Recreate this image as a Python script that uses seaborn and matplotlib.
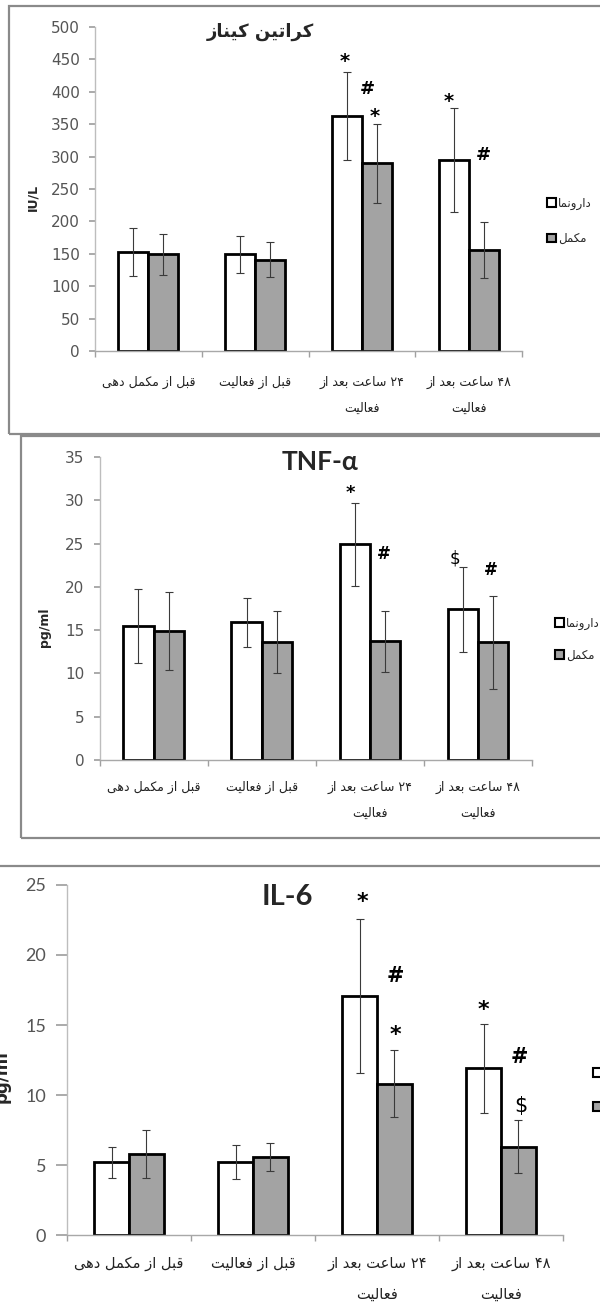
import re
import matplotlib
matplotlib.use('Agg')
import matplotlib.pyplot as plt
from matplotlib.patches import Rectangle, Patch
import seaborn as sns
import pandas as pd
import numpy as np

# ---- data ----
times = ['قبل از مکمل دهی', 'قبل از فعالیت',
         '۲۴ ساعت بعد از\nفعالیت', '۴۸ ساعت بعد از\nفعالیت']
groups = ['دارونما', 'مکمل']

ck_placebo = [153, 149, 363, 295]
ck_placebo_err = [37, 29, 68, 80]
ck_supp = [149, 141, 290, 156]
ck_supp_err = [32, 27, 61, 43]

tnf_placebo = [15.5, 15.9, 24.9, 17.4]
tnf_placebo_err = [4.3, 2.8, 4.8, 4.9]
tnf_supp = [14.9, 13.6, 13.7, 13.6]
tnf_supp_err = [4.5, 3.6, 3.5, 5.4]

il6_placebo = [5.2, 5.2, 17.1, 11.9]
il6_placebo_err = [1.1, 1.2, 5.5, 3.2]
il6_supp = [5.8, 5.6, 10.8, 6.3]
il6_supp_err = [1.7, 1.0, 2.4, 1.9]

# significance marks: (time index, offset in category units, y value, symbol)
ck_marks = [(2, -0.16, 447, '*'), (2, 0.05, 405, '#'), (2, 0.12, 362, '*'),
            (3, -0.19, 385, '*'), (3, 0.135, 302, '#')]
tnf_marks = [(2, -0.18, 30.8, '*'), (2, 0.13, 23.8, '#'),
             (3, -0.21, 23.3, '$'), (3, 0.12, 21.9, '#')]
il6_marks = [(2, -0.12, 23.8, '*'), (2, 0.15, 18.5, '#'), (2, 0.15, 14.3, '*'),
             (3, -0.14, 16.1, '*'), (3, 0.15, 12.7, '#'), (3, 0.16, 9.2, '$')]

# ---- minimal Persian shaping (presentation forms + visual order) ----
FORMS = {  # isolated, final, initial, medial
    'ا': ('\uFE8D', '\uFE8E', None, None),
    'ب': ('\uFE8F', '\uFE90', '\uFE91', '\uFE92'),
    'ت': ('\uFE95', '\uFE96', '\uFE97', '\uFE98'),
    'د': ('\uFEA9', '\uFEAA', None, None),
    'ر': ('\uFEAD', '\uFEAE', None, None),
    'ز': ('\uFEAF', '\uFEB0', None, None),
    'س': ('\uFEB1', '\uFEB2', '\uFEB3', '\uFEB4'),
    'ع': ('\uFEC9', '\uFECA', '\uFECB', '\uFECC'),
    'ف': ('\uFED1', '\uFED2', '\uFED3', '\uFED4'),
    'ق': ('\uFED5', '\uFED6', '\uFED7', '\uFED8'),
    'ل': ('\uFEDD', '\uFEDE', '\uFEDF', '\uFEE0'),
    'م': ('\uFEE1', '\uFEE2', '\uFEE3', '\uFEE4'),
    'ن': ('\uFEE5', '\uFEE6', '\uFEE7', '\uFEE8'),
    'ه': ('\uFEE9', '\uFEEA', '\uFEEB', '\uFEEC'),
    'و': ('\uFEED', '\uFEEE', None, None),
    'ک': ('\uFB8E', '\uFB8F', '\uFB90', '\uFB91'),
    'ی': ('\uFBFC', '\uFBFD', '\uFBFE', '\uFBFF'),
}


def shape(text):
    lines = []
    for line in text.split('\n'):
        out = []
        for i, ch in enumerate(line):
            if ch not in FORMS:
                out.append(ch)
                continue
            iso, fin, ini, med = FORMS[ch]
            prev = line[i - 1] if i > 0 else ''
            nxt = line[i + 1] if i + 1 < len(line) else ''
            jp = prev in FORMS and FORMS[prev][2] is not None
            jn = nxt in FORMS and ini is not None
            out.append(med if jp and jn else fin if jp else ini if jn else iso)
        runs = re.findall(r'\d+|\D+', ''.join(out))
        lines.append(''.join(r if r[0].isdigit() else r[::-1] for r in reversed(runs)))
    return '\n'.join(lines)


sns.set_theme(style='white')
plt.rcParams['font.family'] = ['DejaVu Sans']

W, H = 600, 1309
fig = plt.figure(figsize=(W / 100, H / 100), dpi=100)


def fx(px):
    return px / W


def fy(py):
    return 1 - py / H


# panel frames
fig.add_artist(Rectangle((fx(9), fy(434)), fx(620), 428 / H, transform=fig.transFigure,
                         fill=False, edgecolor='#8a8a8a', linewidth=1.6))
fig.add_artist(Rectangle((fx(21), fy(838)), fx(620), 402 / H, transform=fig.transFigure,
                         fill=False, edgecolor='#8a8a8a', linewidth=1.6))
fig.add_artist(Rectangle((fx(-10), fy(1320)), fx(620), 454 / H, transform=fig.transFigure,
                         fill=False, edgecolor='#8a8a8a', linewidth=1.6))

panels = [
    dict(rect=(fx(95), fy(351), fx(522 - 95), 324 / H), ymax=500, step=50,
         vals=(ck_placebo, ck_placebo_err, ck_supp, ck_supp_err), marks=ck_marks,
         title=shape('کراتین کیناز'), tpos=(260, 32), tfont=['DejaVu Sans'], tsize=13,
         ylabel='IU/L', ypos=(33, 197), ysize=9, tickfont=['Liberation Sans Narrow', 'DejaVu Sans'],
         ticksize=11, ticklen=4, xsize=9, xpad=18, leg=(547, 221), legsp=1.9, marksize=14),
    dict(rect=(fx(99.5), fy(760), fx(532 - 99.5), 303 / H), ymax=35, step=5,
         vals=(tnf_placebo, tnf_placebo_err, tnf_supp, tnf_supp_err), marks=tnf_marks,
         title='TNF-α', tpos=(320, 462), tfont=['Lato', 'DejaVu Sans'], tsize=19,
         ylabel='pg/ml', ypos=(44, 627), ysize=9, tickfont=['Liberation Sans Narrow', 'DejaVu Sans'],
         ticksize=11, ticklen=4, xsize=9, xpad=15, leg=(555, 639), legsp=1.6, marksize=13),
    dict(rect=(fx(67), fy(1235), fx(496), 350 / H), ymax=25, step=5,
         vals=(il6_placebo, il6_placebo_err, il6_supp, il6_supp_err), marks=il6_marks,
         title='IL-6', tpos=(287, 897), tfont=['Lato', 'DejaVu Sans'], tsize=21,
         ylabel='pg/ml', ypos=(2, 1077), ysize=12, tickfont=['Lato', 'DejaVu Sans'],
         ticksize=13, ticklen=8, xsize=10.5, xpad=15, leg=(593, 1090), legsp=1.8, marksize=16),
]

for cfg in panels:
    ax = fig.add_axes(cfg['rect'])
    pl, pl_err, sp, sp_err = cfg['vals']
    df = pd.DataFrame({'time': times * 2,
                       'group': [groups[0]] * 4 + [groups[1]] * 4,
                       'value': pl + sp})
    sns.barplot(data=df, x='time', y='value', hue='group', order=times, hue_order=groups,
                palette=['white', '#a3a3a3'], saturation=1, edgecolor='black', linewidth=2,
                width=0.56, errorbar=None, legend=False, ax=ax, zorder=2)
    for cont, err in zip(ax.containers, [pl_err, sp_err]):
        xs = [p.get_x() + p.get_width() / 2 for p in cont]
        ys = [p.get_height() for p in cont]
        ax.errorbar(xs, ys, yerr=err, fmt='none', ecolor='#3a3a3a', elinewidth=0.8,
                    capsize=3, capthick=0.8, zorder=3)

    for ti, off, yv, sym in cfg['marks']:
        ax.text(ti + off, yv, sym, ha='center', va='center',
                fontsize=cfg['marksize'] if sym == '*' else cfg['marksize'] - 1,
                fontweight='normal' if sym == '$' else 'bold', color='black', zorder=4)

    yt = np.arange(0, cfg['ymax'] + cfg['step'] / 2, cfg['step'])
    ax.set_xlim(-0.5, 3.5)
    ax.set_ylim(0, cfg['ymax'])
    ax.set_yticks(yt)
    ax.set_yticklabels([f'{v:g}' for v in yt], fontfamily=cfg['tickfont'],
                       fontsize=cfg['ticksize'], color='#555555')
    ax.set_xticks(range(4))
    ax.set_xticklabels([shape(t) for t in times], fontsize=cfg['xsize'], linespacing=2.3,
                       color='#222222')
    ax.set_xticks(np.arange(-0.5, 4, 1), minor=True)
    ax.tick_params(axis='x', which='major', length=0, pad=cfg['xpad'])
    ax.tick_params(axis='x', which='minor', length=4, color='#a0a0a0', direction='out', bottom=True)
    ax.tick_params(axis='y', length=cfg['ticklen'], color='#a0a0a0', direction='out', left=True, pad=7)
    ax.set_xlabel('')
    ax.set_ylabel('')
    for s in ['top', 'right']:
        ax.spines[s].set_visible(False)
    ax.spines['left'].set_color('#bdbdbd')
    ax.spines['bottom'].set_color('#a8a8a8')
    ax.spines['left'].set_linewidth(1)
    ax.spines['bottom'].set_linewidth(1)
    ax.set_facecolor('white')
    ax.grid(False)

    fig.text(fx(cfg['tpos'][0]), fy(cfg['tpos'][1]), cfg['title'], ha='center', va='center',
             fontsize=cfg['tsize'], fontweight='bold', family=cfg['tfont'])
    fig.text(fx(cfg['ypos'][0]), fy(cfg['ypos'][1]), cfg['ylabel'], ha='center', va='center',
             rotation=90, fontsize=cfg['ysize'], fontweight='bold')

    handles = [Patch(facecolor='white', edgecolor='black', linewidth=1.5),
               Patch(facecolor='#a3a3a3', edgecolor='black', linewidth=1.5)]
    fig.legend(handles, [shape(g) for g in groups], loc='center left',
               bbox_to_anchor=(fx(cfg['leg'][0]), fy(cfg['leg'][1])), bbox_transform=fig.transFigure,
               frameon=False, fontsize=8.5, handlelength=0.75, handleheight=0.75, handletextpad=0.2,
               labelspacing=cfg['legsp'], borderpad=0, borderaxespad=0)

fig.savefig('out.png', dpi=100, facecolor='white')
